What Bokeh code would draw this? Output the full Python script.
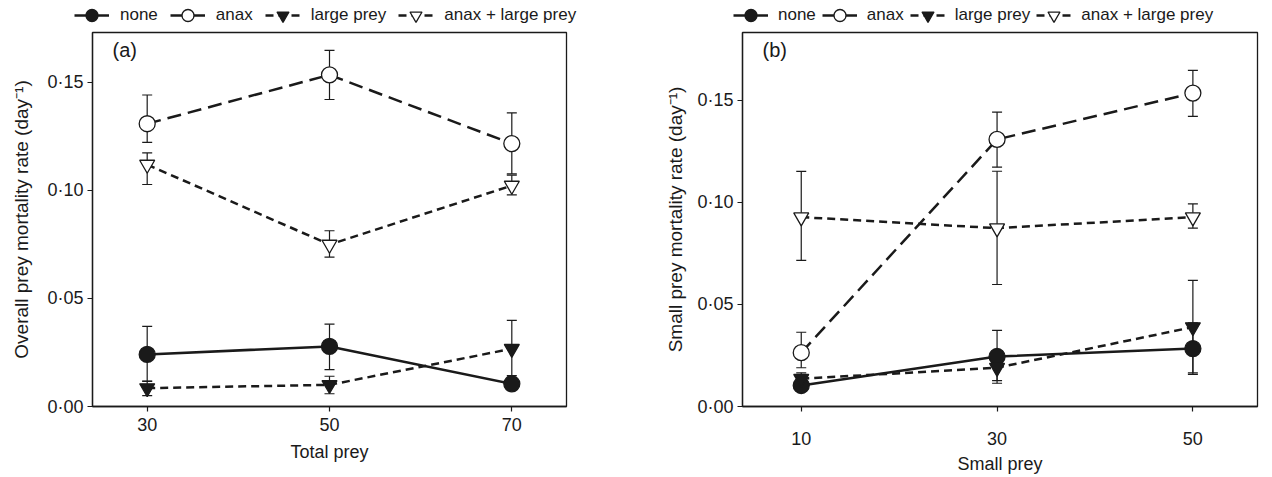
from bokeh.plotting import figure
from bokeh.layouts import row, column
from bokeh.models import (ColumnDataSource, Whisker, TeeHead, Legend, LegendItem,
                          CustomJSTickFormatter, FixedTicker, Range1d, Label)
from bokeh.embed import file_html
from bokeh.resources import INLINE

# ---- data: panel (a) overall prey mortality vs total prey ----
total_prey = [30, 50, 70]
a_none = [0.0241, 0.0278, 0.0105]
a_none_hi = [0.0371, 0.0381, 0.0135]
a_none_lo = [0.0116, 0.0171, 0.0078]
a_anax = [0.1308, 0.1534, 0.1216]
a_anax_hi = [0.1441, 0.1647, 0.1358]
a_anax_lo = [0.1222, 0.1420, 0.1076]
a_large = [0.0085, 0.0100, 0.0267]
a_large_hi = [0.0118, 0.0140, 0.0398]
a_large_lo = [0.0050, 0.0059, 0.0143]
a_both = [0.1119, 0.0749, 0.1022]
a_both_hi = [0.1173, 0.0813, 0.1070]
a_both_lo = [0.1027, 0.0691, 0.0979]

# ---- data: panel (b) small prey mortality vs small prey ----
small_prey = [10, 30, 50]
b_none = [0.0103, 0.0245, 0.0284]
b_none_hi = [0.0130, 0.0373, 0.0410]
b_none_lo = [0.0080, 0.0127, 0.0157]
b_anax = [0.0264, 0.1309, 0.1536]
b_anax_hi = [0.0364, 0.1443, 0.1647]
b_anax_lo = [0.0190, 0.1173, 0.1422]
b_large = [0.0136, 0.0190, 0.0389]
b_large_hi = [0.0165, 0.0260, 0.0618]
b_large_lo = [0.0110, 0.0114, 0.0165]
b_both = [0.0928, 0.0874, 0.0928]
b_both_hi = [0.1152, 0.1153, 0.0993]
b_both_lo = [0.0716, 0.0598, 0.0874]

series_names = ["none", "anax", "large prey", "anax + large prey"]
y_ticks = [0.0, 0.05, 0.10, 0.15]

FONT = "Liberation Sans"
INK = "#1a1a1a"
TOP_STRIP = 30
TOP_GAP = 2
FRAME_H = 374
BOTTOM = 477 - TOP_STRIP - TOP_GAP - FRAME_H

STYLES = {
    "none": dict(dash="solid", marker="circle", fill=INK, size=16),
    "anax": dict(dash="14 7", marker="circle", fill="white", size=16),
    "large prey": dict(dash="8 5", marker="inverted_triangle", fill=INK, size=15),
    "anax + large prey": dict(dash="8 5", marker="inverted_triangle", fill="white", size=15),
}


def add_series(p, xs, ys, st):
    src = ColumnDataSource(dict(x=xs, y=ys))
    ln = p.line("x", "y", source=src, line_color=INK, line_width=2.5,
                line_dash=st["dash"])
    mk = p.scatter("x", "y", source=src, marker=st["marker"], size=st["size"],
                   fill_color=st["fill"], line_color=INK, line_width=1.3)
    return ln, mk


def key_strip(total_w, xs, series, legend_x, standoff, spacing):
    """Horizontal key drawn in its own strip above a panel.

    The strip's ranges leave the series themselves out of view, so only the
    legend swatches show."""
    k = figure(width=total_w, height=TOP_STRIP, frame_width=total_w,
               frame_height=TOP_STRIP, min_border=0,
               x_range=Range1d(-2, -1), y_range=Range1d(-2, -1),
               output_backend="svg", toolbar_location=None)
    k.axis.visible = False
    k.grid.visible = False
    k.outline_line_color = None
    k.background_fill_color = "white"
    k.border_fill_color = "white"
    items = []
    for name in series_names:
        ln, mk = add_series(k, xs, series[name][0], STYLES[name])
        items.append(LegendItem(label=name, renderers=[ln, mk]))
    legend = Legend(items=items, orientation="horizontal",
                    location=(legend_x, 0),
                    label_text_font=FONT, label_text_font_size="17px",
                    label_text_color=INK, glyph_width=35, glyph_height=TOP_STRIP,
                    label_standoff=standoff, spacing=spacing,
                    padding=0, margin=0,
                    border_line_alpha=0, background_fill_alpha=0)
    k.add_layout(legend, "center")
    return k


def make_panel(xs, series, x_range, y_range, x_ticks, xlabel, ylabel, tag,
               border_left, frame_w, border_right, xtick_standoff, xlabel_standoff,
               ylabel_standoff):
    p = figure(width=border_left + frame_w + border_right,
               height=TOP_GAP + FRAME_H + BOTTOM,
               frame_width=frame_w, frame_height=FRAME_H,
               min_border_left=border_left, min_border_right=border_right,
               min_border_top=TOP_GAP, min_border_bottom=BOTTOM,
               x_range=Range1d(*x_range), y_range=Range1d(*y_range),
               output_backend="svg", toolbar_location=None)
    p.grid.visible = False
    p.background_fill_color = "white"
    p.border_fill_color = "white"
    p.outline_line_color = INK
    p.outline_line_width = 1.3

    for ax in (p.xaxis[0], p.yaxis[0]):
        ax.axis_line_color = INK
        ax.axis_line_width = 1.3
        ax.major_tick_line_color = INK
        ax.major_tick_line_width = 1.2
        ax.major_tick_out = 5
        ax.major_tick_in = 0
        ax.minor_tick_line_color = None
        ax.major_label_text_font = FONT
        ax.major_label_text_font_size = "18px"
        ax.major_label_text_color = INK
        ax.axis_label_text_font = FONT
        ax.axis_label_text_font_size = "18px"
        ax.axis_label_text_font_style = "normal"
        ax.axis_label_text_color = INK

    p.xaxis[0].ticker = FixedTicker(ticks=x_ticks)
    p.xaxis[0].axis_label = xlabel
    p.xaxis[0].major_label_standoff = xtick_standoff
    p.xaxis[0].axis_label_standoff = xlabel_standoff
    p.yaxis[0].ticker = FixedTicker(ticks=y_ticks)
    p.yaxis[0].formatter = CustomJSTickFormatter(
        code="return tick.toFixed(2).replace('.', '\u00b7');")
    p.yaxis[0].axis_label = ylabel
    p.yaxis[0].axis_label_text_font_size = "19px"
    p.yaxis[0].major_label_standoff = 4
    p.yaxis[0].axis_label_standoff = ylabel_standoff

    # error bars first, then lines and markers on top
    for name, (ys, hi, lo) in series.items():
        src = ColumnDataSource(dict(x=xs, y=ys, hi=hi, lo=lo))
        w = Whisker(source=src, base="x", upper="hi", lower="lo",
                    line_color=INK, line_width=1.2,
                    upper_head=TeeHead(size=10, line_color=INK, line_width=1.2),
                    lower_head=TeeHead(size=10, line_color=INK, line_width=1.2))
        p.add_layout(w)
    for name, (ys, hi, lo) in series.items():
        add_series(p, xs, ys, STYLES[name])

    p.add_layout(Label(x=20, y=FRAME_H - 28, x_units="screen", y_units="screen",
                       text=tag, text_font=FONT, text_font_size="20px",
                       text_color=INK))
    return p


series_a = {
    "none": (a_none, a_none_hi, a_none_lo),
    "anax": (a_anax, a_anax_hi, a_anax_lo),
    "large prey": (a_large, a_large_hi, a_large_lo),
    "anax + large prey": (a_both, a_both_hi, a_both_lo),
}
series_b = {
    "none": (b_none, b_none_hi, b_none_lo),
    "anax": (b_anax, b_anax_hi, b_anax_lo),
    "large prey": (b_large, b_large_hi, b_large_lo),
    "anax + large prey": (b_both, b_both_hi, b_both_lo),
}

pa = make_panel(total_prey, series_a, (24, 76), (0, 0.173), total_prey,
                "Total prey", "Overall prey mortality rate (day\u207b\u00b9)", "(a)",
                92, 474, 70, 6, 8, 12)
pb = make_panel(small_prey, series_b, (4, 56.6), (0, 0.1833), small_prey,
                "Small prey", "Small prey mortality rate (day\u207b\u00b9)", "(b)",
                106, 515, 15, 20, 6, 8)

ka = key_strip(636, total_prey, series_a, 74, 11, 12)
kb = key_strip(636, small_prey, series_b, 97, 10, 6)

layout = row(column(ka, pa, spacing=0), column(kb, pb, spacing=0), spacing=0)
open("out.html", "w").write(file_html(layout, INLINE))
